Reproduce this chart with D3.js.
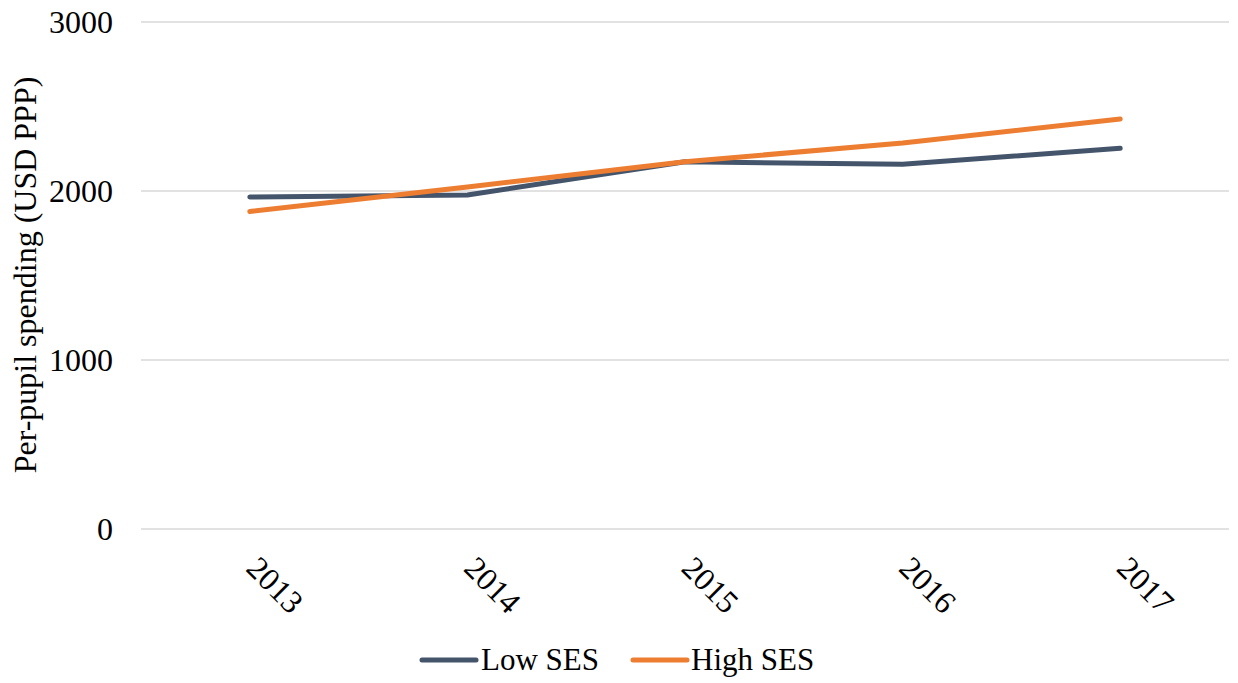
<!DOCTYPE html>
<html>
<head>
<meta charset="utf-8">
<script src="https://cdn.jsdelivr.net/npm/d3@7"></script>
<style>
  html, body { margin: 0; padding: 0; background: #fff; }
  svg { display: block; font-family: "Liberation Serif", "Times New Roman", serif; }
</style>
</head>
<body>
<svg id="chart" width="1238" height="683"></svg>
<script>
const categories = ["2013", "2014", "2015", "2016", "2017"];
const lowSES = [1964, 1976, 2173, 2158, 2253];
const highSES = [1879, 2024, 2173, 2284, 2426];
const yTicks = [0, 1000, 2000, 3000];
const seriesNames = ["Low SES", "High SES"];
const seriesColors = ["#44546a", "#ed7d31"];
const yTitle = "Per-pupil spending (USD PPP)";

const series = [
  { name: seriesNames[0], values: lowSES, color: seriesColors[0] },
  { name: seriesNames[1], values: highSES, color: seriesColors[1] }
];

const FONT = "'Liberation Serif', 'Times New Roman', serif";
const svg = d3.select("#chart");
const plotLeft = 141, plotRight = 1229, plotTop = 22, plotBottom = 529;

const x = d3.scaleBand().domain(categories).range([plotLeft, plotRight]);
const y = d3.scaleLinear().domain([0, 3000]).range([plotBottom, plotTop]);
const cx = d => x(d) + x.bandwidth() / 2;

// gridlines
svg.append("g").selectAll("line").data(yTicks).join("line")
  .attr("x1", plotLeft).attr("x2", plotRight)
  .attr("y1", d => y(d)).attr("y2", d => y(d))
  .attr("stroke", "#d9d9d9").attr("stroke-width", 1.3);

// y axis labels
const yAxis = d3.axisLeft(y).tickValues(yTicks).tickSize(0).tickPadding(0).tickFormat(d3.format("d"));
const yg = svg.append("g").attr("transform", `translate(113,0)`).call(yAxis);
yg.select(".domain").remove();
yg.attr("font-family", FONT);
yg.selectAll("text").attr("font-size", 32).attr("fill", "#000")
  .attr("font-family", FONT).attr("dy", "0.33em");

// x labels rotated
svg.append("g").selectAll("text").data(categories).join("text")
  .attr("transform", d => `translate(${cx(d) - 5},570) rotate(45)`)
  .attr("text-anchor", "start")
  .attr("font-family", FONT)
  .attr("font-size", 32).attr("fill", "#000")
  .text(d => d);

// y title
svg.append("text")
  .attr("transform", `translate(36,275) rotate(-90)`)
  .attr("text-anchor", "middle")
  .attr("font-family", FONT)
  .attr("font-size", 32).attr("fill", "#000")
  .text(yTitle);

// lines
const line = d3.line().x((v, i) => cx(categories[i])).y(v => y(v));
svg.append("g").selectAll("path").data(series).join("path")
  .attr("d", s => line(s.values))
  .attr("fill", "none")
  .attr("stroke", s => s.color)
  .attr("stroke-width", 5)
  .attr("stroke-linecap", "round")
  .attr("stroke-linejoin", "round");

// legend
const legendItems = [
  { x1: 422, x2: 476, tx: 481 },
  { x1: 633, x2: 687, tx: 691 }
];
const lg = svg.append("g");
series.forEach((s, i) => {
  const it = legendItems[i];
  lg.append("line").attr("x1", it.x1).attr("x2", it.x2).attr("y1", 660).attr("y2", 660)
    .attr("stroke", s.color).attr("stroke-width", 5).attr("stroke-linecap", "round");
  lg.append("text").attr("x", it.tx).attr("y", 670).attr("font-family", FONT)
    .attr("font-size", 31).attr("fill", "#000").text(s.name);
});
</script>
</body>
</html>
